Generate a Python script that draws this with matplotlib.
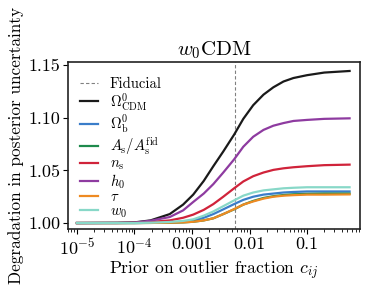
import matplotlib
matplotlib.use("Agg")
import matplotlib.pyplot as plt
from matplotlib.ticker import FixedLocator, FuncFormatter, LogLocator, NullFormatter

plt.rcParams['font.family'] = ['cmr10', 'DejaVu Serif']
plt.rcParams['mathtext.fontset'] = 'cm'
plt.rcParams['axes.unicode_minus'] = False
plt.rcParams['axes.formatter.use_mathtext'] = True

prior = [1e-5, 5e-5, 1e-4, 1.9e-4, 4.1e-4, 7e-4, 1.05e-3, 1.6e-3, 2.35e-3, 3.5e-3,
         5.4e-3, 7.8e-3, 1.16e-2, 1.75e-2, 2.6e-2, 3.9e-2, 5.8e-2, 0.1, 0.2, 0.55]
fiducial = 0.0055

omega_cdm = [1.000, 1.0002, 1.0006, 1.0025, 1.0085, 1.0175, 1.027, 1.040, 1.054, 1.068,
             1.084, 1.099, 1.112, 1.122, 1.129, 1.1345, 1.1378, 1.1405, 1.143, 1.1445]
omega_b = [1.000, 1.000, 1.000, 1.0002, 1.0006, 1.0012, 1.0025, 1.005, 1.0085, 1.013,
           1.018, 1.022, 1.025, 1.027, 1.028, 1.029, 1.0295, 1.030, 1.030, 1.030]
a_s = [1.000, 1.000, 1.000, 1.0001, 1.0003, 1.0006, 1.0012, 1.0025, 1.0045, 1.0085,
       1.013, 1.0175, 1.021, 1.0238, 1.0255, 1.0266, 1.0273, 1.0277, 1.028, 1.028]
n_s = [1.000, 1.000, 1.0002, 1.001, 1.0025, 1.005, 1.008, 1.0125, 1.018, 1.025,
       1.033, 1.0395, 1.0445, 1.048, 1.0505, 1.052, 1.053, 1.054, 1.055, 1.0555]
h_0 = [1.000, 1.0001, 1.0004, 1.0022, 1.0057, 1.012, 1.020, 1.028, 1.037, 1.048,
       1.0605, 1.0725, 1.082, 1.0885, 1.0925, 1.095, 1.097, 1.098, 1.099, 1.0995]
tau = [1.000, 1.000, 1.000, 1.0001, 1.0003, 1.0006, 1.0012, 1.0025, 1.0045, 1.0085,
       1.0132, 1.0175, 1.0205, 1.0232, 1.025, 1.026, 1.0265, 1.027, 1.027, 1.0272]
w_0 = [1.000, 1.000, 1.000, 1.0003, 1.001, 1.002, 1.0035, 1.007, 1.011, 1.016,
       1.0215, 1.026, 1.029, 1.031, 1.032, 1.033, 1.0335, 1.034, 1.034, 1.034]

series = [
    (r'$\Omega_{\rm CDM}^0$', omega_cdm, '#1a1a1a'),
    (r'$\Omega_{\rm b}^0$', omega_b, '#3a7dc9'),
    (r'$A_{\rm s}/A_{\rm s}^{\rm fid}$', a_s, '#1e8a4c'),
    (r'$n_{\rm s}$', n_s, '#d0233a'),
    (r'$h_0$', h_0, '#8e3ba0'),
    (r'$\tau$', tau, '#ee8a22'),
    (r'$w_0$', w_0, '#88d8c8'),
]

fig = plt.figure(figsize=(3.74, 2.94), dpi=100)
ax = fig.add_axes([0.182, 0.221, 0.781, 0.568])

ax.axvline(fiducial, color='#808080', lw=0.8, ls=(0, (3, 2)), label='Fiducial')
for label, vals, col in series:
    ax.plot(prior, vals, color=col, lw=1.6, label=label)

ax.set_xscale('log')
ax.set_xlim(7e-6, 0.84)
ax.set_ylim(0.9943, 1.153)
ax.set_yticks([1.00, 1.05, 1.10, 1.15])
ax.yaxis.set_major_formatter(FuncFormatter(lambda v, p: f'{v:.2f}'))

xt = [1e-5, 1e-4, 1e-3, 1e-2, 1e-1]
xt_labels = [r'$10^{-5}$', r'$10^{-4}$', '0.001', '0.01', '0.1']
ax.xaxis.set_major_locator(FixedLocator(xt))
ax.set_xticklabels(xt_labels)
ax.xaxis.set_minor_locator(LogLocator(base=10, subs=range(2, 10), numticks=20))
ax.xaxis.set_minor_formatter(NullFormatter())

ax.tick_params(axis='both', which='major', labelsize=13, length=3.5, width=0.8, pad=2)
ax.tick_params(axis='x', which='minor', length=2, width=0.6)
for s in ax.spines.values():
    s.set_linewidth(1.2)
    s.set_color('#222222')

ax.set_title(r'$w_0$CDM', fontsize=15, pad=5)
ax.set_xlabel(r'Prior on outlier fraction $c_{ij}$', fontsize=12.7, labelpad=1)
ax.set_ylabel('Degradation in posterior uncertainty', fontsize=12.4, labelpad=3)

leg = ax.legend(loc='upper left', frameon=False, fontsize=10.5, handlelength=1.25,
                labelspacing=0.0, borderaxespad=0.0, handletextpad=0.8,
                bbox_to_anchor=(0.02, 0.945))

fig.savefig('out.png', dpi=100)
